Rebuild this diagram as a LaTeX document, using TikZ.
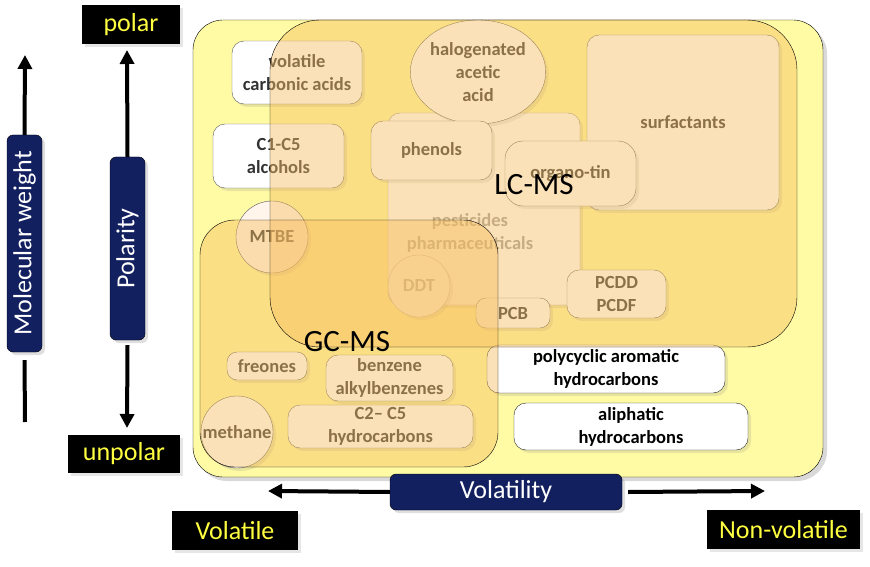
\documentclass[tikz,border=0pt]{standalone}
\usepackage{fontspec}
\setmainfont{Carlito}
\usetikzlibrary{arrows.meta,shadows,shapes.geometric}
\definecolor{navy}{HTML}{13205F}
\definecolor{labyel}{HTML}{FFFF40}
\definecolor{paleyel}{HTML}{FFFBA4}
\definecolor{overlay}{HTML}{F8BE60}
\tikzset{
	itemfont/.style={font=\fontsize{18.5}{23}\selectfont\bfseries, align=center},
	item/.style={draw=black!65, fill=white, rounded corners=12pt, text=black!80, itemfont, inner sep=0pt, drop shadow={shadow xshift=3pt,shadow yshift=-3pt,opacity=0.18}},
	blob/.style={item, circle, rounded corners=0pt},
	axisbox/.style={draw=black, fill=navy, rounded corners=6pt, text=white, font=\fontsize{26}{30}\selectfont, inner sep=0pt, drop shadow={shadow xshift=3pt,shadow yshift=-3pt,opacity=0.25}},
	endbox/.style={fill=black, text=labyel, font=\fontsize{26}{30}\selectfont, inner sep=0pt, drop shadow={shadow xshift=3pt,shadow yshift=-3pt,opacity=0.2}},
	region/.style={fill=overlay, fill opacity=0.45, draw=none},
	mslabel/.style={font=\fontsize{31}{34}\selectfont, text=black, inner sep=0pt}
}
\begin{document}
\begin{tikzpicture}[x=1pt,y=-1pt,>={Triangle[width=14pt,length=14pt]}]
	\useasboundingbox (0,0) rectangle (870,567);
	\draw[fill=paleyel, rounded corners=30pt, drop shadow={shadow xshift=4pt,shadow yshift=-4pt,opacity=0.3}] (193,20) rectangle (823,477);
	\node[item, minimum width=130pt, minimum height=63pt] (vca) at (297,72.5) {volatile\\carbonic acids};
	\node[item, minimum width=131pt, minimum height=64pt] (alc) at (278.5,156) {C1-C5\\alcohols};
	\node[item, minimum width=192pt, minimum height=192pt, draw=black!45] (pest) at (484,209) {};
	\node[itemfont, text=black!38, inner sep=0pt] (pesttxt) at (470,233) {pesticides\\pharmaceuticals};
	\node[item, ellipse, rounded corners=0pt, minimum width=134pt, minimum height=104pt] (hal) at (478,72) {halogenated\\acetic\\acid};
	\node[item, minimum width=121pt, minimum height=59pt] (phen) at (431.5,150.5) {phenols};
	\node[item, minimum width=192pt, minimum height=175pt] (surf) at (683,122.5) {surfactants};
	\node[item, minimum width=131pt, minimum height=65pt, rounded corners=18pt] (otin) at (570.5,173.5) {organo-tin};
	\node[blob, minimum size=72pt, fill=orange!8] (mtbe) at (272,237) {MTBE};
	\node[blob, minimum size=62pt, draw=black!35, text=black!35] (ddt) at (419,286) {DDT};
	\node[item, minimum width=74pt, minimum height=30pt, rounded corners=10pt] (pcb) at (513,313) {PCB};
	\node[item, minimum width=99pt, minimum height=48pt] (pcdd) at (616.5,294) {PCDD\\PCDF};
	\node[item, minimum width=238pt, minimum height=48pt, draw=black!85, text=black] (pah) at (606,369) {polycyclic aromatic\\hydrocarbons};
	\node[item, minimum width=234pt, minimum height=47pt, draw=black!85, text=black] (ali) at (631,426.5) {aliphatic\\hydrocarbons};
	\node[item, minimum width=80pt, minimum height=28pt, rounded corners=10pt] (fre) at (267,366) {freones};
	\node[item, minimum width=127pt, minimum height=46pt] (benz) at (389.5,378) {benzene\\alkylbenzenes};
	\node[blob, minimum size=72pt] (meth) at (237,432) {methane};
	\node[item, minimum width=185pt, minimum height=43pt] (ctwo) at (380.5,426.5) {C2– C5\\hydrocarbons};
	\fill[region, rounded corners=50pt] (270,20) rectangle (797,347);
	\fill[region, rounded corners=35pt] (200,220) rectangle (498,467);
	\draw[rounded corners=50pt] (270,20) rectangle (797,347);
	\draw[rounded corners=35pt] (200,220) rectangle (498,467);
	\node[mslabel] (lcms) at (534,185) {LC-MS};
	\node[mslabel] (gcms) at (347,342) {GC-MS};
	\node[axisbox, rotate=90, minimum width=217pt, minimum height=35pt] (mw) at (24.5,243.5) {Molecular weight};
	\node[axisbox, rotate=90, minimum width=183pt, minimum height=35pt] (pol) at (127.5,248.5) {Polarity};
	\node[axisbox, minimum width=232pt, minimum height=36pt] (vol) at (506,492) {Volatility};
	\node[endbox, minimum width=98pt, minimum height=39pt] (polar) at (131,24.5) {polar};
	\node[endbox, minimum width=112pt, minimum height=38pt] (unpolar) at (124,454) {unpolar};
	\node[endbox, minimum width=126pt, minimum height=39pt] (volat) at (235,530.5) {Volatile};
	\node[endbox, minimum width=153pt, minimum height=39pt] (nonvol) at (783.5,529.5) {Non-volatile};
	\coordinate (mwtop) at (25,55);
	\coordinate (mwbot) at (25,422);
	\coordinate (poltop) at (127,50);
	\coordinate (polbot) at (127,428);
	\coordinate (volleft) at (268,491);
	\coordinate (volright) at (765,491);
	\draw[->, line width=4pt] (mw.east) -- (mwtop);
	\draw[line width=4pt] ([yshift=-8pt]mw.west) -- (mwbot);
	\draw[->, line width=4pt] (pol.east) -- (poltop);
	\draw[->, line width=4pt] ([yshift=-5pt]pol.west) -- (polbot);
	\draw[->, line width=4pt] (vol.west) -- (volleft);
	\draw[->, line width=4pt] ([xshift=6pt]vol.east) -- (volright);
\end{tikzpicture}
\end{document}
